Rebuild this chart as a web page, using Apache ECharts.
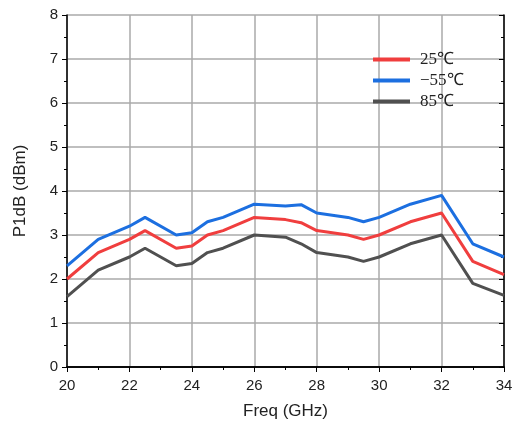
<!DOCTYPE html>
<html><head><meta charset="utf-8">
<script src="https://cdn.jsdelivr.net/npm/echarts@6/dist/echarts.min.js"></script>
<style>html,body{margin:0;padding:0;background:#fff}#c{width:515px;height:426px}</style>
</head><body><div id="c"></div>
<script>
const freq = [20, 21, 22, 22.5, 23.5, 24, 24.5, 25, 26, 27, 27.5, 28, 29, 29.5, 30, 31, 32, 33, 34];
const p25 = [2.0, 2.6, 2.9, 3.1, 2.7, 2.75, 3.0, 3.1, 3.4, 3.35, 3.28, 3.1, 3.0, 2.9, 3.0, 3.3, 3.5, 2.4, 2.1];
const pm55 = [2.3, 2.9, 3.2, 3.4, 3.0, 3.05, 3.3, 3.4, 3.7, 3.66, 3.69, 3.5, 3.4, 3.3, 3.4, 3.7, 3.9, 2.8, 2.5];
const p85 = [1.6, 2.2, 2.5, 2.7, 2.3, 2.35, 2.6, 2.7, 3.0, 2.95, 2.8, 2.6, 2.5, 2.4, 2.5, 2.8, 3.0, 1.9, 1.63];
const names = ['25\u2103', '\u221255\u2103', '85\u2103'];
const colors = ['#f03e3e', '#1c6fe0', '#505050'];
const pair = arr => freq.map((f, i) => [f, arr[i]]);
const chart = echarts.init(document.getElementById('c'));
const axLine = {show: true, lineStyle: {color: '#000', width: 1.5}};
const lab = {color: '#222', fontSize: 15, fontFamily: 'Liberation Sans, Arial'};
chart.setOption({
  animation: false,
  grid: {left: 67, right: 11, top: 15, bottom: 59, containLabel: false, outerBoundsMode: 'none'},
  legend: {
    orient: 'vertical', left: 373, top: 51, itemWidth: 37, itemHeight: 4, itemGap: 4,
    icon: 'rect', padding: 0,
    textStyle: {fontFamily: 'Liberation Serif, Times New Roman, serif', fontSize: 17, lineHeight: 16, color: '#222', padding: [0, 0, 0, 5]},
    data: names
  },
  xAxis: [{
    type: 'value', min: 20, max: 34, interval: 2,
    name: 'Freq (GHz)', nameLocation: 'middle', nameGap: 36,
    nameTextStyle: {fontSize: 17, color: '#222', fontFamily: 'Liberation Sans, Arial'},
    axisLine: axLine, axisTick: {show: true, inside: false, length: 5, lineStyle: {color: '#000'}},
    minorTick: {show: true, splitNumber: 2, length: 3, lineStyle: {color: '#000'}},
    axisLabel: Object.assign({margin: 11}, lab),
    splitLine: {show: true, lineStyle: {color: '#aaa', width: 1.5}}
  }, {
    type: 'value', position: 'top', min: 20, max: 34, interval: 2,
    axisLine: axLine, axisTick: {show: true, inside: true, length: 5, lineStyle: {color: '#000'}},
    minorTick: {show: true, splitNumber: 2, length: 3, lineStyle: {color: '#000'}},
    axisLabel: {show: false}, splitLine: {show: false}
  }],
  yAxis: [{
    type: 'value', min: 0, max: 8, interval: 1,
    name: 'P1dB (dBm)', nameLocation: 'middle', nameGap: 38,
    nameTextStyle: {fontSize: 17, color: '#222', fontFamily: 'Liberation Sans, Arial'},
    axisLine: axLine, axisTick: {show: true, inside: false, length: 5, lineStyle: {color: '#000'}},
    minorTick: {show: true, splitNumber: 2, length: 3, lineStyle: {color: '#000'}},
    axisLabel: Object.assign({margin: 9}, lab),
    splitLine: {show: true, lineStyle: {color: '#aaa', width: 1.5}}
  }, {
    type: 'value', position: 'right', min: 0, max: 8, interval: 1,
    axisLine: axLine, axisTick: {show: true, inside: true, length: 5, lineStyle: {color: '#000'}},
    minorTick: {show: true, splitNumber: 2, length: 3, lineStyle: {color: '#000'}},
    axisLabel: {show: false}, splitLine: {show: false}
  }],
  series: [p25, pm55, p85].map((arr, i) => ({
    name: names[i], type: 'line', data: pair(arr), showSymbol: false, symbol: 'none',
    color: colors[i], lineStyle: {width: 3, color: colors[i]}, z: 3 - i
  }))
});
</script></body></html>
